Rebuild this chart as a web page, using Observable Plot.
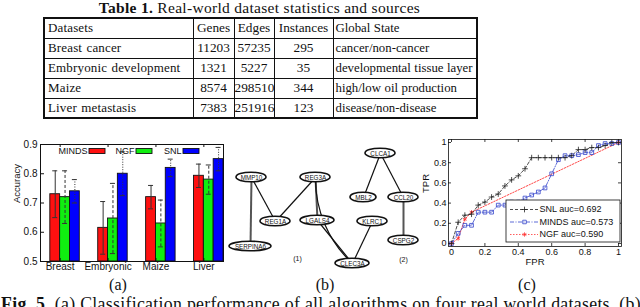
<!DOCTYPE html>
<html>
<head>
<meta charset="utf-8">
<script src="https://cdn.jsdelivr.net/npm/d3@7"></script>
<script src="https://cdn.jsdelivr.net/npm/@observablehq/plot@0.6"></script>
<style>
html, body { margin:0; padding:0; background:#fff; }
#page { position:relative; width:640px; height:307px; overflow:hidden; background:#fff; }
#page > * { position:absolute; }
.serif, .serif * { font-family:"Liberation Serif","DejaVu Serif",serif !important; color:#111; }
#title { left:43px; width:433px; top:0px; text-align:center; font-size:15.5px; letter-spacing:0.3px; line-height:15px; white-space:nowrap; }
#tbl { left:43px; top:17px; border-collapse:collapse; table-layout:fixed; width:433px; border:2px solid #111; font-size:13px; letter-spacing:0.15px; word-spacing:1px; }
#tbl tr { height:20px; }
#tbl td { border:1px solid #111; padding:0 0 0 3px; white-space:nowrap; line-height:18px; overflow:visible; font-size:13px; }
#tbl td.num { text-align:center; padding:0; letter-spacing:0; font-size:13.3px; }
#tbl td.last { letter-spacing:0; word-spacing:0.3px; padding-left:2px; font-size:12.8px; }
#figA { left:0; top:130px; }
#figB { left:225px; top:140px; }
#figC { left:415px; top:132px; }
#overlay { left:0; top:0; }
</style>
</head>
<body>
<div id="page">
  <div id="title" class="serif"></div>
  <table id="tbl" class="serif"></table>
  <div id="figA"></div>
  <div id="figB"></div>
  <div id="figC"></div>
  <svg id="overlay" width="640" height="307" class="serif"></svg>
</div>
<script>
// ---------------- DATA ----------------
// Table 1
const tableTitleBold = "Table 1.";
const tableTitle = "Real-world dataset statistics and sources";
const tableHeader = ["Datasets", "Genes", "Edges", "Instances", "Global State"];
const tableDatasets = ["Breast cancer", "Embryonic development", "Maize", "Liver metastasis"];
const tableGenes = [11203, 1321, 8574, 7383];
const tableEdges = [57235, 5227, 298510, 251916];
const tableInstances = [295, 35, 344, 123];
const tableStates = ["cancer/non-cancer", "developmental tissue layer", "high/low oil production", "disease/non-disease"];

// (a) accuracy bars
const datasets = ["Breast", "Embryonic", "Maize", "Liver"];
const methods = ["MINDS", "NGF", "SNL"];
const accMINDS = [0.730, 0.615, 0.720, 0.793];
const accNGF   = [0.720, 0.647, 0.630, 0.780];
const accSNL   = [0.740, 0.800, 0.820, 0.850];
const errMINDS = [0.080, 0.090, 0.040, 0.040];
const errNGF   = [0.090, 0.120, 0.080, 0.050];
const errSNL   = [0.040, 0.075, 0.030, 0.040];
const accTicks = [0.5, 0.6, 0.7, 0.8, 0.9];

// (b) gene modules (graph layout)
const geneNames = ["MMP10", "REG3A", "CLCA1", "MBL2", "CCL20", "REG1A", "LGALS4", "KLRC1", "SERPINA6", "CSPG2", "CLEC3A"];
const geneLayoutX = [26, 90, 155, 138, 178, 50, 92, 147, 25, 178, 127];
const geneLayoutY = [37, 37, 13, 57, 57, 81, 80, 81, 106, 100, 123];
const edgeSource = ["MMP10", "MMP10", "REG3A", "REG3A", "LGALS4", "KLRC1", "CLCA1", "CLCA1", "CCL20"];
const edgeTarget = ["SERPINA6", "REG1A", "REG1A", "LGALS4", "CLEC3A", "CLEC3A", "MBL2", "CCL20", "CSPG2"];
const edgeStrong = [true, false, false, true, false, false, false, false, true];
const curvedSource = ["REG3A"];
const curvedTarget = ["CLEC3A"];
const moduleNames = ["(1)", "(2)"];
const moduleLayoutX = [72, 178];
const moduleLayoutY = [118, 119];

// (c) ROC curves
const rocFPR = [0, 0.04, 0.08, 0.12, 0.16, 0.20, 0.24, 0.28, 0.32, 0.36, 0.40, 0.44, 0.48, 0.52, 0.56, 0.60, 0.64, 0.68, 0.72, 0.76, 0.80, 0.84, 0.88, 0.92, 0.96, 1.00];
const tprSNL   = [0, 0.21, 0.28, 0.29, 0.38, 0.41, 0.46, 0.49, 0.57, 0.63, 0.67, 0.74, 0.85, 0.85, 0.85, 0.85, 0.85, 0.85, 0.87, 0.93, 0.93, 0.95, 0.95, 0.97, 1.00, 1.00];
const tprMINDS = [0, 0.10, 0.18, 0.18, 0.31, 0.31, 0.31, 0.38, 0.38, 0.41, 0.41, 0.45, 0.48, 0.51, 0.55, 0.69, 0.83, 0.87, 0.87, 0.88, 0.90, 0.90, 0.97, 0.99, 0.99, 1.00];
const fprNGF = [0, 0.04, 0.08, 0.12, 1.00];
const tprNGF = [0, 0.05, 0.24, 0.31, 1.00];
const rocNames = ["SNL auc=0.692", "MINDS auc=0.573", "NGF auc=0.590"];
const rocTicks = [0, 0.2, 0.4, 0.6, 0.8, 1];

const captionA = "(a)", captionB = "(b)", captionC = "(c)";
const figBold = "Fig. 5.";
const figText = " (a) Classification performance of all algorithms on four real world datasets. (b)";

// ---------------- TABLE ----------------
document.getElementById("title").innerHTML = "<b>" + tableTitleBold + "</b> " + tableTitle;
const tbl = document.getElementById("tbl");
const colW = [149, 41, 40, 59, 144];
const cg = document.createElement("colgroup");
colW.forEach(w => { const c = document.createElement("col"); c.style.width = w + "px"; cg.appendChild(c); });
tbl.appendChild(cg);
function addRow(cells) {
  const tr = document.createElement("tr");
  cells.forEach((c, i) => {
    const td = document.createElement("td");
    td.textContent = c;
    if (i >= 1 && i <= 3) td.className = "num";
    if (i === 4) td.className = "last";
    tr.appendChild(td);
  });
  tbl.appendChild(tr);
}
addRow(tableHeader);
tableDatasets.forEach((d, i) => addRow([d, tableGenes[i], tableEdges[i], tableInstances[i], tableStates[i]]));

// ---------------- (a) ----------------
const sans = "'Liberation Sans', Arial, Helvetica, sans-serif";
const accs = [accMINDS, accNGF, accSNL], errs = [errMINDS, errNGF, errSNL];
const BW = 0.205;
const xMinA = -BW, xMaxA = 3 + 3 * BW;
const WA = 224, HA = 148, mlA = 40, mrA = 1, mtA = 14, mbA = 17;
const pxA = (xMaxA - xMinA) / (WA - mlA - mrA);
const pyA = (accTicks[accTicks.length - 1] - accTicks[0]) / (HA - mtA - mbA);
const barRows = [];
methods.forEach((m, mi) => datasets.forEach((ds, gi) => barRows.push({ds, m, gi, mi, v: accs[mi][gi], e: errs[mi][gi]})));
const bx = d => d.gi + (d.mi + 0.5) * BW;
const capW = 2.5 * pxA;
const errDash = [null, "3,2", "1,1.5"];
const labelPos = datasets.map((d, i) => i + BW);
const yLo = accTicks[0], yHi = accTicks[accTicks.length - 1];
const legTextRight = i => xMinA + (47 + 47 * i) * pxA;
const legY = yHi - 7 * pyA;

const marksA = [
  Plot.rect(barRows, {x1: d => d.gi + d.mi * BW, x2: d => d.gi + (d.mi + 1) * BW, y1: yLo, y2: "v", fill: "m", stroke: "#111", strokeWidth: 0.9}),
  ...methods.map((m, mi) => Plot.ruleX(barRows.filter(d => d.mi === mi), {x: bx, y1: d => d.v - d.e, y2: d => Math.min(yHi, d.v + d.e), stroke: "#333", strokeWidth: 1, strokeDasharray: errDash[mi]})),
  Plot.ruleY(barRows, {y: d => d.v + d.e, x1: d => bx(d) - capW, x2: d => bx(d) + capW, stroke: "#333", strokeWidth: 1}),
  Plot.ruleY(barRows, {y: d => d.v - d.e, x1: d => bx(d) - capW, x2: d => bx(d) + capW, stroke: "#333", strokeWidth: 1}),
  Plot.frame({stroke: "#111"}),
  Plot.ruleY(accTicks, {y: d => d, x1: xMinA, x2: xMinA + 4 * pxA, stroke: "#111"}),
  Plot.ruleX(labelPos, {x: d => d, y1: yHi - 3 * pyA, y2: yHi, stroke: "#111"}),
  Plot.ruleX(labelPos, {x: d => d, y1: yLo, y2: yLo + 3 * pyA, stroke: "#111"}),
  Plot.axisY({ticks: accTicks, tickSize: 0, tickPadding: 3, tickFormat: d3.format(".1f"), label: null, fontSize: 10}),
  Plot.axisX({ticks: labelPos, tickSize: 0, tickPadding: 1, tickFormat: d => datasets[Math.round(d - BW)], label: null, fontSize: 10}),
  Plot.text(["Accuracy"], {frameAnchor: "left", dx: -24, rotate: -90, text: d => d, fontSize: 9.5}),
  Plot.text(methods, {x: (d, i) => legTextRight(i), y: legY, text: d => d, textAnchor: "end", fontSize: 9}),
  Plot.rect(methods, {x1: (d, i) => legTextRight(i) + 2 * pxA, x2: (d, i) => legTextRight(i) + 18 * pxA, y1: legY - 2.5 * pyA, y2: legY + 2.5 * pyA, fill: d => d, stroke: "#111", strokeWidth: 0.9})
];
const plotA = Plot.plot({
  width: WA, height: HA, marginLeft: mlA, marginRight: mrA, marginTop: mtA, marginBottom: mbA,
  x: {domain: [xMinA, xMaxA]},
  y: {domain: [yLo, yHi]},
  color: {domain: methods, range: ["#ff1010", "#10ee10", "#0000ff"]},
  style: {background: "transparent", fontFamily: sans, fontSize: "10px", color: "#111", overflow: "visible"},
  marks: marksA
});
document.getElementById("figA").appendChild(plotA);

// ---------------- (b) ----------------
const WB = 205, HB = 135;
const genes = geneNames.map((g, i) => ({g, x: geneLayoutX[i], y: geneLayoutY[i], w: g.length * 4 + 10}));
const gi = Object.fromEntries(genes.map(d => [d.g, d]));
const edges = edgeSource.map((s, i) => ({s: gi[s], t: gi[edgeTarget[i]], strong: edgeStrong[i]}));
const curved = curvedSource.map((s, i) => ({s: gi[s], t: gi[curvedTarget[i]]}));
const plotB = Plot.plot({
  width: WB, height: HB, margin: 0,
  x: {domain: [0, WB], range: [0, WB], axis: null},
  y: {domain: [0, HB], range: [0, HB], axis: null},
  style: {background: "transparent", fontFamily: sans, fontSize: "6px", color: "#111", overflow: "visible"},
  marks: [
    Plot.link(edges.filter(d => !d.strong), {x1: d => d.s.x, y1: d => d.s.y, x2: d => d.t.x, y2: d => d.t.y, stroke: "#111", strokeWidth: 1.2}),
    Plot.link(edges.filter(d => d.strong), {x1: d => d.s.x, y1: d => d.s.y, x2: d => d.t.x, y2: d => d.t.y, stroke: "#555", strokeWidth: 2}),
    Plot.arrow(curved, {x1: d => d.s.x, y1: d => d.s.y, x2: d => d.t.x, y2: d => d.t.y, bend: -24, headLength: 0, stroke: "#111", strokeWidth: 1.2}),
    Plot.rect(genes, {x1: d => d.x - d.w / 2, x2: d => d.x + d.w / 2, y1: d => d.y - 4.8, y2: d => d.y + 4.8, rx: "50%", ry: "50%", fill: "white", stroke: "#111", strokeWidth: 1.6}),
    Plot.text(genes, {x: "x", y: "y", text: "g", fontSize: 6.3}),
    Plot.text(moduleNames, {x: (d, i) => moduleLayoutX[i], y: (d, i) => moduleLayoutY[i], text: d => d, fontSize: 7})
  ]
});
document.getElementById("figB").appendChild(plotB);

// ---------------- (c) ----------------
const WC = 225, HC = 140, mlC = 33, mrC = 19, mtC = 7, mbC = 26;
const xDomC = [-0.018, 1.018], yDomC = [-0.03, 1.03];
const pxC = (xDomC[1] - xDomC[0]) / (WC - mlC - mrC);
const pyC = (yDomC[1] - yDomC[0]) / (HC - mtC - mbC);
const snl = rocFPR.map((x, i) => ({x, y: tprSNL[i]}));
const minds = rocFPR.map((x, i) => ({x, y: tprMINDS[i]}));
const ngf = fprNGF.map((x, i) => ({x, y: tprNGF[i]}));
const rocColors = ["#222", "#3344cc", "#ff3333"];
const rocDash = ["3,2", "4,1.5,1,1.5", "1.5,1.5"];
const rocSym = ["plus", "square", "asterisk"];
const fxC = px => xDomC[0] + px * pxC;
const fyC = py => yDomC[1] - py * pyC;
const legBox = {x1: fxC(58), x2: fxC(172), y1: fyC(103), y2: fyC(61)};
const legRowY = i => fyC(70 + 12.5 * i);
const fmtC = d => d3.format("~g")(d);
const marksC = [
  Plot.frame({stroke: "#111", strokeWidth: 0.8}),
  Plot.ruleY(rocTicks, {y: d => d, x1: xDomC[0], x2: xDomC[0] + 3 * pxC, stroke: "#111", strokeWidth: 0.8}),
  Plot.ruleY(rocTicks, {y: d => d, x1: xDomC[1] - 3 * pxC, x2: xDomC[1], stroke: "#111", strokeWidth: 0.8}),
  Plot.ruleX(rocTicks, {x: d => d, y1: yDomC[0], y2: yDomC[0] + 3 * pyC, stroke: "#111", strokeWidth: 0.8}),
  Plot.ruleX(rocTicks, {x: d => d, y1: yDomC[1] - 3 * pyC, y2: yDomC[1], stroke: "#111", strokeWidth: 0.8}),
  Plot.axisX({ticks: rocTicks, tickSize: 0, tickPadding: 2, tickFormat: fmtC, label: null, fontSize: 9}),
  Plot.axisY({ticks: rocTicks, tickSize: 0, tickPadding: 2, tickFormat: fmtC, label: null, fontSize: 9}),
  Plot.text(["FPR"], {frameAnchor: "bottom", dy: 18, text: d => d, fontSize: 9.5}),
  Plot.text(["TPR"], {frameAnchor: "left", dx: -23, rotate: -90, text: d => d, fontSize: 9.5}),
  Plot.line(ngf, {x: "x", y: "y", stroke: rocColors[2], strokeWidth: 0.9, strokeDasharray: rocDash[2]}),
  Plot.line(minds, {x: "x", y: "y", stroke: rocColors[1], strokeWidth: 0.8, strokeDasharray: rocDash[1]}),
  Plot.line(snl, {x: "x", y: "y", stroke: rocColors[0], strokeWidth: 0.8, strokeDasharray: rocDash[0]}),
  Plot.dot(ngf, {x: "x", y: "y", stroke: rocColors[2], symbol: rocSym[2], r: 2, strokeWidth: 0.8}),
  Plot.dot(minds, {x: "x", y: "y", stroke: rocColors[1], symbol: rocSym[1], r: 2.1, strokeWidth: 0.8, fill: "none"}),
  Plot.dot(snl, {x: "x", y: "y", stroke: rocColors[0], symbol: rocSym[0], r: 2, strokeWidth: 0.8}),
  Plot.rect([legBox], {x1: "x1", x2: "x2", y1: "y1", y2: "y2", fill: "white", stroke: "#111", strokeWidth: 0.8}),
  ...rocNames.map((n, i) => Plot.ruleY([n], {y: legRowY(i), x1: fxC(62), x2: fxC(90), stroke: rocColors[i], strokeWidth: 0.8, strokeDasharray: rocDash[i]})),
  ...rocNames.map((n, i) => Plot.dot([n], {x: fxC(76), y: legRowY(i), stroke: rocColors[i], symbol: rocSym[i], r: 2, strokeWidth: 0.8, fill: "none"})),
  Plot.text(rocNames, {x: fxC(91), y: (d, i) => legRowY(i), text: d => d, textAnchor: "start", fontSize: 9})
];
const plotC = Plot.plot({
  width: WC, height: HC, marginLeft: mlC, marginRight: mrC, marginTop: mtC, marginBottom: mbC,
  x: {domain: xDomC},
  y: {domain: yDomC},
  style: {background: "transparent", fontFamily: sans, fontSize: "9px", color: "#111", overflow: "visible"},
  marks: marksC
});
document.getElementById("figC").appendChild(plotC);

// ---------------- captions ----------------
const ov = d3.select("#overlay");
[[captionA, 118], [captionB, 325], [captionC, 527]].forEach(([t, x]) => {
  ov.append("text").attr("x", x).attr("y", 290).attr("text-anchor", "middle").attr("font-size", 16).attr("fill", "#111").text(t);
});
const fig = ov.append("text").attr("x", 1).attr("y", 310).attr("font-size", 17.8).attr("letter-spacing", 0.3).attr("fill", "#111");
fig.append("tspan").attr("font-weight", "bold").text(figBold);
fig.append("tspan").text(figText);
</script>
</body>
</html>
